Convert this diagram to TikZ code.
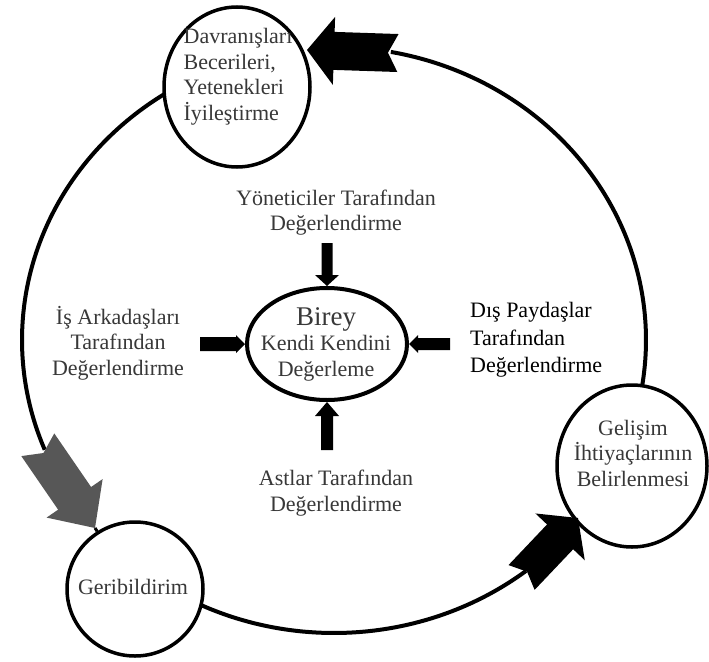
\documentclass[tikz,border=0pt]{standalone}
\usepackage{fontspec}
\setmainfont{Liberation Serif}
\usetikzlibrary{shapes.geometric}
\definecolor{txtgray}{HTML}{383838}
\definecolor{arrgray}{HTML}{575757}
\newcommand\blkarrow[8]{%
  % #1 tip, #2 angle, #3 length, #4 head length, #5 head half width, #6 shaft half width, #7 notch, #8 colour
  \begin{scope}[shift={(#1)},rotate=#2]
    \fill[#8] (0,0) -- (-#4,#5) -- (-#4,#6) -- (-#3,#6) -- (-#3+#7,0) -- (-#3,-#6) -- (-#4,-#6) -- (-#4,-#5) -- cycle;
  \end{scope}}
\begin{document}
\begin{tikzpicture}[x=1pt,y=-1pt,
  txt/.style={text=txtgray,font=\fontsize{22}{25.5}\selectfont,align=center,inner sep=0pt},
  cyc/.style={line width=4pt,line join=round},
  ring/.style={draw,ellipse,line width=3.5pt,fill=white,inner sep=0pt}]
\useasboundingbox[fill=white] (0,0) rectangle (709,661);
% big cycle arcs
\draw[cyc] plot[domain=158:238,samples=60,smooth] ({334+312*cos(\x)},{340+293*sin(\x)});
\draw[cyc] plot[domain=52:117,samples=50,smooth] ({334+312*cos(\x)},{340+293*sin(\x)});
\draw[cyc] plot[domain=-79.5:11,samples=60,smooth] ({334+312*cos(\x)},{340+293*sin(\x)});
% circles
\node[ring,minimum width=146pt,minimum height=160pt] (top) at (237,87) {};
\node[ring,minimum width=150pt,minimum height=162pt] (gel) at (632,466) {};
\node[ring,minimum width=136pt,minimum height=134pt] (geri) at (135,589) {};
\node[draw,ellipse,line width=4pt,minimum width=160pt,minimum height=112pt,inner sep=0pt] (birey) at (327,344) {};
% big arrows
\coordinate (tipT) at (307,50);
\coordinate (tipL) at (95,528);
\coordinate (tipR) at (578,518);
\blkarrow{tipT}{178.1}{91}{27}{34}{19}{10}{black}
\blkarrow{tipL}{-55.5}{101}{36}{34}{20}{10}{arrgray}
\blkarrow{tipR}{46.5}{82}{26}{34}{18}{8}{black}
\draw[line width=3pt] (tipL) -- (geri);
% small arrows into the centre
\coordinate (aT) at (birey.north);
\coordinate (aB) at (birey.south);
\coordinate (aL) at (birey.west);
\coordinate (aR) at (birey.east);
\blkarrow{aT}{-90}{43}{11}{12}{5.5}{0}{black}
\blkarrow{aB}{90}{48}{14}{12}{6}{0}{black}
\blkarrow{aL}{0}{45}{9}{9}{7}{0}{black}
\blkarrow{aR}{180}{41}{9}{9}{6}{0}{black}
% texts
\node[txt,align=left] (ttop) at (238,76.5) {Davranışları\\Becerileri,\\Yetenekleri\\İyileştirme};
\node[txt] (tgel) at (633,453) {Gelişim\\İhtiyaçlarının\\Belirlenmesi};
\node[txt] (tgeri) at (133,587) {Geribildirim};
\node[txt] (tbirey) at (326,344) {{\fontsize{27}{30}\selectfont Birey}\\Kendi Kendini\\Değerleme};
\node[txt] (tyon) at (336,212.5) {Yöneticiler Tarafından\\Değerlendirme};
\node[txt] (tis) at (118,343) {İş Arkadaşları\\Tarafından\\Değerlendirme};
\node[txt,text=black,align=left,anchor=west,font=\fontsize{22}{27.5}\selectfont] (tdis) at (470,340) {Dış Paydaşlar\\Tarafından\\Değerlendirme};
\node[txt] (tast) at (336,493) {Astlar Tarafından\\Değerlendirme};
\end{tikzpicture}
\end{document}
